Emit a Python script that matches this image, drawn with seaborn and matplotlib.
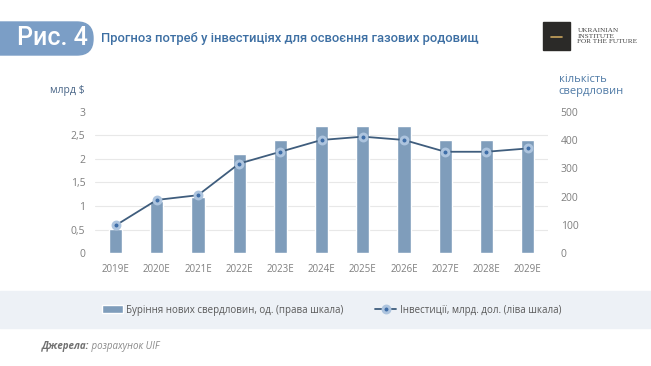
import numpy as np
import pandas as pd
import matplotlib
matplotlib.use('Agg')
import matplotlib.pyplot as plt
import seaborn as sns
from matplotlib.patches import FancyBboxPatch, Rectangle
from matplotlib.lines import Line2D

### DATA ###
years = ['2019E', '2020E', '2021E', '2022E', '2023E', '2024E', '2025E', '2026E', '2027E', '2028E', '2029E']
wells = [85, 185, 200, 350, 400, 450, 450, 450, 400, 400, 400]  # буріння, од. (права шкала)
invest = [0.59, 1.13, 1.23, 1.9, 2.15, 2.4, 2.47, 2.4, 2.15, 2.15, 2.22]  # млрд $ (ліва шкала)
left_ticks = [0, 0.5, 1, 1.5, 2, 2.5, 3]
left_labels = ['0', '0,5', '1', '1,5', '2', '2,5', '3']
right_ticks = [0, 100, 200, 300, 400, 500]

bar_label = 'Буріння нових свердловин, од. (права шкала)'
line_label = 'Інвестиції, млрд. дол. (ліва шкала)'

df = pd.DataFrame({'year': years, 'pos': np.arange(len(years)), 'wells': wells, 'invest': invest})

### STYLE ###
sns.set_style('white')
plt.rcParams['font.family'] = ['Open Sans', 'DejaVu Sans']
GREY = '#7f7f7f'
BAR = '#7f9dbb'
LINE = '#3f5d7d'
BLUE = '#3d6fa3'

fig = plt.figure(figsize=(6.51, 3.66), dpi=100)
ax = fig.add_axes([0.146, 0.308, 0.696, 0.387])
ax2 = ax.twinx()

# bars on the primary axes (right scale), line on the twin (left scale)
sns.barplot(data=df, x='year', y='wells', color=BAR, width=0.32, saturation=1, ax=ax, label=bar_label)
ax.set_ylim(0, 500)
ax.set_xlim(-0.5, len(years) - 0.5)
ax.set_yticks(right_ticks)
ax.set_yticks(np.array(left_ticks) * 500 / 3, minor=True)
ax.yaxis.set_ticks_position('right')
ax.grid(which='minor', axis='y', color='#e8e8e8', lw=0.8)
ax.set_axisbelow(True)
ax.tick_params(axis='y', which='both', length=0, pad=9, labelsize=7.5, labelcolor=GREY,
               left=False, labelleft=False, right=True, labelright=True)
ax.tick_params(axis='x', length=0, pad=8, labelsize=7, labelcolor=GREY)
ax.set_xlabel('')
ax.set_ylabel('')
for s in ax.spines.values():
    s.set_visible(False)

sns.lineplot(data=df, x='pos', y='invest', color=LINE, lw=1.3, marker='o', markersize=5,
             markerfacecolor='#3f6ea8', markeredgecolor='#adc4de', markeredgewidth=2.1,
             ax=ax2, label=line_label)
ax2.set_ylim(0, 3)
ax2.set_yticks(left_ticks)
ax2.set_yticklabels(left_labels)
ax2.yaxis.set_ticks_position('left')
ax2.tick_params(axis='y', length=0, pad=7, labelsize=7.5, labelcolor=GREY,
                left=True, labelleft=True, right=False, labelright=False)
ax2.set_xlabel('')
ax2.set_ylabel('')
for s in ax2.spines.values():
    s.set_visible(False)

# legend
h1, l1 = ax.get_legend_handles_labels()
h2, l2 = ax2.get_legend_handles_labels()
for a in (ax, ax2):
    if a.get_legend() is not None:
        a.get_legend().remove()

fig.patches.append(Rectangle((0, 0.104), 1, 0.101, transform=fig.transFigure,
                             color='#edf1f6', zorder=0))
leg = fig.legend(h1 + h2, l1 + l2, loc='center', bbox_to_anchor=(0.509, 0.153), ncol=2,
                 frameon=False, fontsize=7, handlelength=2.2, handleheight=0.8,
                 columnspacing=3.2, handletextpad=0.35)
for t in leg.get_texts():
    t.set_color('#595959')

# axis titles
fig.text(0.077, 0.754, 'млрд $', fontsize=7.5, color='#4a6688', va='center', ha='left')
fig.text(0.858, 0.766, 'кількість\nсвердловин', fontsize=8, color='#4f7aa6', va='center',
         ha='left', linespacing=1.15)

# header (pill drawn in pixel units)
fig.patches.append(FancyBboxPatch((-25, 311), 118, 33, transform=None,
                                  boxstyle='round,pad=0,rounding_size=16', color='#7b9ec6',
                                  zorder=1))
fig.text(0.080, 0.895, 'Рис. 4', family='Roboto', fontsize=18, color='white',
         va='center', ha='center', fontweight='medium')
fig.text(0.155, 0.895, 'Прогноз потреб у інвестиціях для освоєння газових родовищ',
         family='Roboto', fontsize=9.4, color=BLUE, va='center', ha='left', fontweight='medium')

# logo
fig.patches.append(Rectangle((0.834, 0.863), 0.042, 0.077, transform=fig.transFigure,
                             color='#2b2a28', zorder=1))
fig.lines.append(Line2D([0.846, 0.864], [0.9, 0.9], transform=fig.transFigure,
                        color='#c9a45c', lw=1.2))
fig.text(0.887, 0.901, 'UKRAINIAN\nINSTITUTE\nFOR THE FUTURE', family='Liberation Serif',
         fontsize=5.2, color='#444444', va='center', ha='left', linespacing=1.15)

# source
t1 = fig.text(0.0645, 0.052, 'Джерела:', fontsize=7, color='#707070', style='italic',
              fontweight='bold', va='center', ha='left')
ax.annotate(' розрахунок UIF', xy=(1, 0.5), xycoords=t1, fontsize=7, color='#8a8a8a',
            style='italic', va='center', ha='left', annotation_clip=False)

fig.savefig('out.png', dpi=100)
